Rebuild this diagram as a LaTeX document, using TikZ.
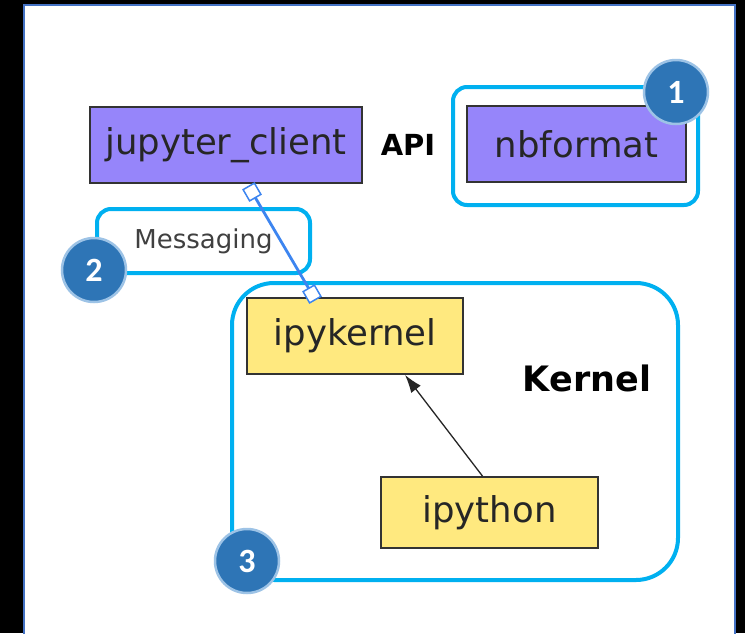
\documentclass[tikz,border=0pt]{standalone}
\usepackage{fontspec}
\setmainfont{DejaVu Sans}
\newfontfamily\badgefont{Carlito}
\usepackage{tikz}
\usetikzlibrary{shapes,arrows.meta,positioning,calc}
\definecolor{pkgblue}{HTML}{9685FA}
\definecolor{pkgyellow}{HTML}{FFE97F}
\definecolor{framecyan}{HTML}{00B0F0}
\definecolor{badgeblue}{HTML}{2E75B6}
\definecolor{badgerim}{HTML}{9DC3E6}
\definecolor{panelrim}{HTML}{4472C4}
\definecolor{linkblue}{HTML}{3D85F0}
\tikzstyle{pkg} = [draw=black!80,line width=1.8pt,inner sep=0pt,font=\fontsize{35.5}{40}\selectfont,text=black!85]
\tikzstyle{frame} = [draw=framecyan,line width=4pt,rounded corners=14pt,inner sep=0pt]
\tikzstyle{badge} = [circle,fill=badgeblue,draw=badgerim,line width=2.5pt,minimum size=64pt,inner sep=0pt,text=white,font=\badgefont\bfseries\fontsize{34}{38}\selectfont]
\tikzstyle{handle} = [rectangle,rotate=30,draw=linkblue,fill=white,line width=1.5pt,minimum size=13pt,inner sep=0pt]
\tikzstyle{heading} = [font=\bfseries\fontsize{29}{34}\selectfont]
\tikzset{>=latex}

\begin{document}
\begin{tikzpicture}[x=1pt,y=-1pt]
    \useasboundingbox (0,0) rectangle (745,633);
    \fill[black] (0,0) rectangle (745,633);
    \draw[panelrim,line width=1.5pt,fill=white] (24,5) rectangle (735,640);
    % frames
    \node [frame,minimum width=245pt,minimum height=118pt] (apiframe) at (575.5,146) {};
    \node [frame,minimum width=213pt,minimum height=64pt,font=\fontsize{26}{30}\selectfont,text=black!75] (msgframe) at (203.5,241) {Messaging};
    \node [frame,rounded corners=42pt,minimum width=446pt,minimum height=297pt] (kernelframe) at (455,431.5) {};
    % packages
    \node [pkg,fill=pkgblue,minimum width=272pt,minimum height=76pt] (jclient) at (226,145) {jupyter\_client};
    \node [pkg,fill=pkgblue,minimum width=219pt,minimum height=76pt] (nbformat) at (576.5,144) {nbformat};
    \node [pkg,fill=pkgyellow,minimum width=216pt,minimum height=76pt] (ipykernel) at (355,336) {ipykernel};
    \node [pkg,fill=pkgyellow,minimum width=217pt,minimum height=71pt] (ipython) at (489.5,512.5) {ipython};
    \node [heading] (api) at (408,145) {API};
    \node [heading,font=\bfseries\fontsize{35}{40}\selectfont] (kernel) at (587,378) {Kernel};
    % links
    \draw [-{Latex[length=18pt,width=12pt]},line width=1.3pt,black!85] ($(ipython.north)+(-7,0)$) -- ($(ipykernel.south)+(50,0)$);
    \coordinate (ctop) at (252,192);
    \coordinate (cbot) at (312,294);
    \draw [linkblue,line width=2.8pt] (ctop) -- (cbot);
    \node [handle] (htop) at (ctop) {};
    \node [handle] (hbot) at (cbot) {};
    % badges
    \node [badge] (b1) at (676,92) {1};
    \node [badge] (b2) at (94,270) {2};
    \node [badge] (b3) at (247,561) {3};
\end{tikzpicture}
\end{document}
